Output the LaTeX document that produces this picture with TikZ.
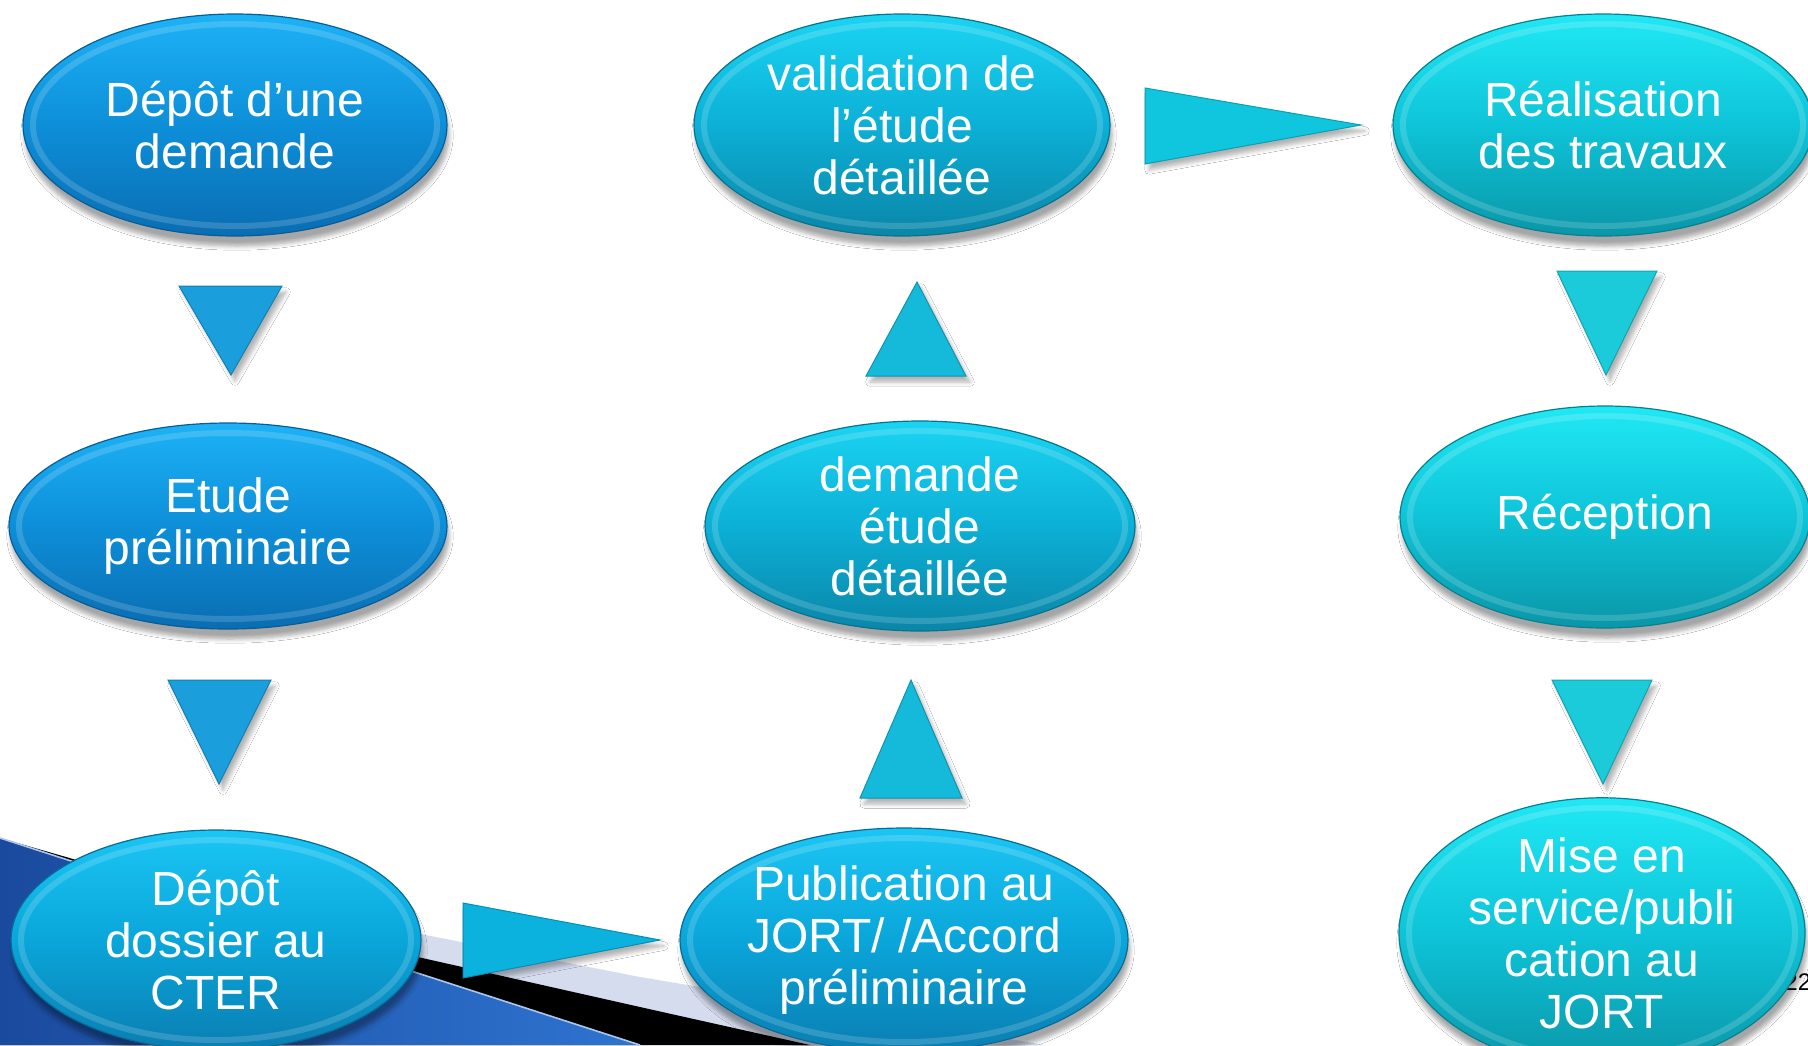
\documentclass[tikz,border=0pt]{standalone}
\usepackage{fontspec}
\setmainfont{Liberation Sans}
\usetikzlibrary{shapes.geometric,shadows.blur,calc}

% column colours
\definecolor{leftTop}{HTML}{1DB2F6}
\definecolor{leftMid}{HTML}{0D8FD8}
\definecolor{leftBot}{HTML}{0A6DB2}
\definecolor{cterTop}{HTML}{1BC6F4}
\definecolor{cterMid}{HTML}{0AA6DA}
\definecolor{cterBot}{HTML}{0A7EB2}
\definecolor{midTop}{HTML}{1AD4F2}
\definecolor{midMid}{HTML}{0CB0D6}
\definecolor{midBot}{HTML}{0A86A8}
\definecolor{rightTop}{HTML}{20E8F4}
\definecolor{rightMid}{HTML}{0EC4D8}
\definecolor{rightBot}{HTML}{0A96A8}
\definecolor{triLeft}{HTML}{1A9FDC}
\definecolor{triCter}{HTML}{0BB2DE}
\definecolor{triMid}{HTML}{15B9DA}
\definecolor{triTop}{HTML}{10C6DE}
\definecolor{triRight}{HTML}{1BCBDA}
\definecolor{ribbonL}{HTML}{1A4A9E}
\definecolor{ribbonR}{HTML}{2E74D0}
\definecolor{lavender}{HTML}{D5DCEE}

\begin{document}
\begin{tikzpicture}[
    x=0.5pt, y=-0.5pt,
    bubble/.style n args={3}{
        ellipse,
        inner sep=0pt,
        top color=#1, bottom color=#3, middle color=#2,
        draw=#3!85!black,
        line width=0.6pt,
        text=white,
        font=\fontsize{24}{26}\selectfont,
        align=center,
        blur shadow={shadow xshift=1pt, shadow yshift=-5pt,
                     shadow opacity=35, shadow blur steps=6},
        path picture={
            \draw[white, opacity=0.16, line width=3pt]
                let \p1=(path picture bounding box.north east),
                    \p2=(path picture bounding box.south west)
                in (path picture bounding box.center)
                ellipse [x radius={0.5*(\x1-\x2)-5pt},
                         y radius={0.5*(\y1-\y2)-5pt}];
        }
    },
    leftbub/.style={bubble={leftTop}{leftMid}{leftBot}},
    cterbub/.style={bubble={cterTop}{cterMid}{cterBot}},
    midbub/.style={bubble={midTop}{midMid}{midBot}},
    rightbub/.style={bubble={rightTop}{rightMid}{rightBot}},
    tri/.style={
        fill=#1,
        draw=#1!80!black,
        line width=0.5pt,
        blur shadow={shadow xshift=2pt, shadow yshift=-3pt,
                     shadow opacity=30, shadow blur steps=5}
    },
]

\useasboundingbox (0,0) rectangle (1808,1045);
\fill[white] (0,0) rectangle (1808,1045);

% === RIBBON (bottom left) ===
\fill[lavender] (150,880) -- (400,930) -- (640,977) -- (1045,1045) -- (0,1045) -- cycle;
\fill[black] (0,838) -- (400,953) -- (640,1007) -- (810,1045) -- (0,1045) -- cycle;
\shade[left color=ribbonL, right color=ribbonR] (0,838) -- (640,1045) -- (0,1045) -- cycle;
\draw[ribbonR!40!white, line width=0.8pt] (0,838) -- (640,1045);

% === TRIANGLES ===
\path[tri=triLeft] (179,286) -- (282,286) -- (231,375) -- cycle;
\path[tri=triLeft] (168,680) -- (271,680) -- (219,784) -- cycle;
\path[tri=triCter] (463,903) -- (463,978) -- (660,940) -- cycle;
\path[tri=triMid] (860,798) -- (962,798) -- (911,680) -- cycle;
\path[tri=triMid] (866,376) -- (966,376) -- (917,282) -- cycle;
\path[tri=triTop] (1145,88) -- (1145,164) -- (1361,125) -- cycle;
\path[tri=triRight] (1557,271) -- (1657,271) -- (1606,375) -- cycle;
\path[tri=triRight] (1552,680) -- (1652,680) -- (1603,784) -- cycle;

% page number (half hidden)
\node[anchor=west, inner sep=0pt, font=\fontsize{12}{14}\selectfont] (pagenum) at (1784,982) {22};

% === LEFT COLUMN ===
\node[leftbub, minimum width=212pt, minimum height=111pt] (depot) at (235,125)
{Dépôt d’une\\demande};
\node[leftbub, minimum width=219pt, minimum height=103pt] (etude) at (228,526)
{Etude\\préliminaire};
\node[cterbub, minimum width=205pt, minimum height=110pt] (cter) at (216,940)
{Dépôt\\dossier au\\CTER};

% === MIDDLE COLUMN ===
\node[midbub, minimum width=208pt, minimum height=111pt] (valid) at (902,125)
{validation de\\l’étude\\détaillée};
\node[midbub, minimum width=215pt, minimum height=105pt] (detail) at (920,526)
{demande\\étude\\détaillée};
\node[cterbub, minimum width=224pt, minimum height=112pt] (jort) at (904,940)
{Publication au\\JORT/ /Accord\\préliminaire};

% === RIGHT COLUMN ===
\node[rightbub, minimum width=210pt, minimum height=111pt] (travaux) at (1603,125)
{Réalisation\\des travaux};
\node[rightbub, minimum width=205pt, minimum height=111pt] (recep) at (1605,517)
{Réception};
\node[rightbub, minimum width=203pt, minimum height=116pt] (service) at (1602,933)
{Mise en\\service/publi\\cation au\\JORT};

\end{tikzpicture}
\end{document}
